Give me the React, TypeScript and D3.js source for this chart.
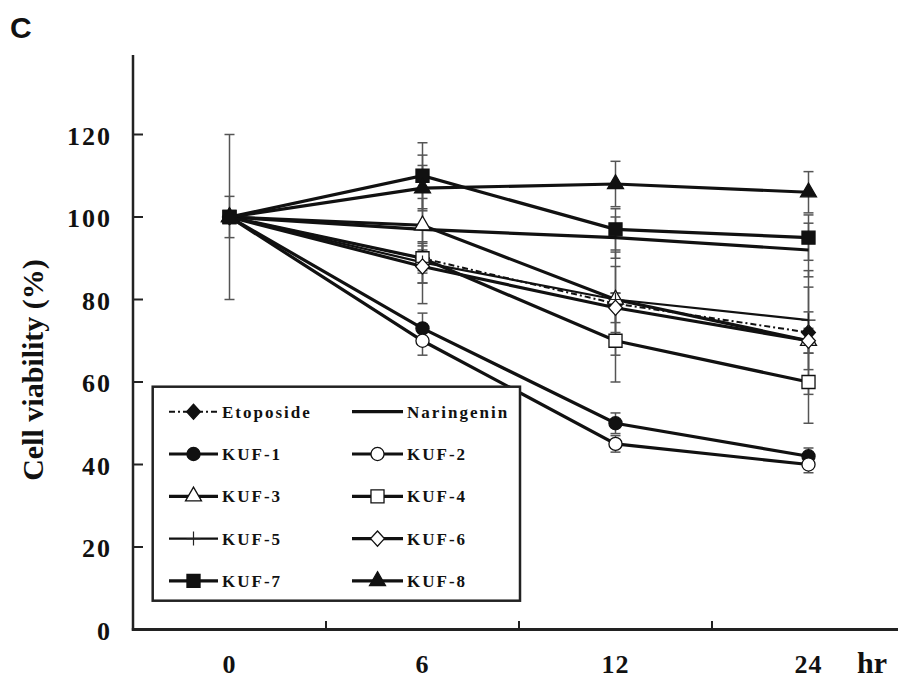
import React from 'react';
import * as d3 from 'd3';

// hours after treatment (categorical axis)
const times = ['0', '6', '12', '24'];
const yTicks = [0, 20, 40, 60, 80, 100, 120];

const seriesNames = ['Etoposide', 'Naringenin', 'KUF-1', 'KUF-2', 'KUF-3', 'KUF-4', 'KUF-5', 'KUF-6', 'KUF-7', 'KUF-8'];

// mean cell viability (%) at 0, 6, 12, 24 hr
const etoposide = [100, 90, 79, 72];
const naringenin = [100, 97, 95, 92];
const kuf1 = [100, 73, 50, 42];
const kuf2 = [100, 70, 45, 40];
const kuf3 = [100, 98, 80, 70];
const kuf4 = [100, 90, 70, 60];
const kuf5 = [100, 89, 80, 75];
const kuf6 = [100, 88, 78, 70];
const kuf7 = [100, 110, 97, 95];
const kuf8 = [100, 107, 108, 106];

// error (±) at each time
const etoposideErr = [20, 3, 12.5, 5];
const naringeninErr = [5, 18, 5, 6.5];
const kuf1Err = [0, 3.7, 2.5, 2];
const kuf2Err = [0, 3.5, 2, 2];
const kuf3Err = [0, 6.5, 1.5, 13];
const kuf4Err = [0, 3.6, 10, 10];
const kuf5Err = [0, 5, 8, 12];
const kuf6Err = [0, 4, 3.6, 3];
const kuf7Err = [0, 8, 5, 5.5];
const kuf8Err = [0, 5.5, 5.5, 5];

const values = [etoposide, naringenin, kuf1, kuf2, kuf3, kuf4, kuf5, kuf6, kuf7, kuf8];
const errors = [etoposideErr, naringeninErr, kuf1Err, kuf2Err, kuf3Err, kuf4Err, kuf5Err, kuf6Err, kuf7Err, kuf8Err];

// marker kind per series
const markers = ['diamondFill', 'none', 'circleFill', 'circleOpen', 'triangleOpen', 'squareOpen', 'plus', 'diamondOpen', 'squareFill', 'triangleFill'];

const SERIF = '"Liberation Serif", "Times New Roman", serif';

const diamondType = {
  draw(ctx, size) {
    const r = Math.sqrt(size) / 2;
    ctx.moveTo(0, -r * 1.1);
    ctx.lineTo(r, 0);
    ctx.lineTo(0, r * 1.1);
    ctx.lineTo(-r, 0);
    ctx.closePath();
  },
};

function Marker({ kind, x, y }) {
  if (kind === 'none') return null;
  if (kind === 'plus') {
    return (
      <path d={`M${x},${y - 7}V${y + 7}M${x - 7},${y}H${x + 7}`} stroke="#222" strokeWidth={1.2} />
    );
  }
  let type = d3.symbolCircle;
  let size = 135;
  if (kind.startsWith('square')) { type = d3.symbolSquare; size = 170; }
  if (kind.startsWith('triangle')) { type = d3.symbolTriangle; size = 110; }
  if (kind.startsWith('diamond')) { type = diamondType; size = 190; }
  const filled = kind.endsWith('Fill');
  const d = d3.symbol().type(type).size(size)();
  return (
    <path
      d={d}
      transform={`translate(${x},${y})`}
      fill={filled ? '#111' : '#fff'}
      stroke="#111"
      strokeWidth={1.3}
    />
  );
}

export default function App() {
  const width = 898;
  const height = 680;

  const x = d3.scaleBand().domain(times).range([133, 905]);
  const y = d3.scaleLinear().domain([0, 120]).range([629.5, 134.5]);
  const cx = (t) => x(t) + x.bandwidth() / 2;

  const line = d3.line()
    .x((d, i) => cx(times[i]))
    .y((d) => y(d));

  const lineStyle = (name) => {
    if (name === 'Etoposide') return { strokeWidth: 2, strokeDasharray: '6,3,2,3' };
    if (name === 'KUF-5') return { strokeWidth: 2.2 };
    return { strokeWidth: 3.2 };
  };

  // legend layout
  const legX = 152.7;
  const legY = 386.7;
  const legW = 367.3;
  const legH = 214;
  const rowY = (r) => 411.7 + r * 42.3;
  const colLine = [[169, 218], [352, 403]];

  return (
    <svg width={width} height={height} style={{ position: 'fixed', left: 0, top: 0, background: '#fff' }}>
      <rect width={width} height={height} fill="#fff" />

      <text x={10} y={38} fontFamily='"Liberation Sans", Arial, sans-serif' fontWeight="bold" fontSize={30} fill="#111">C</text>

      {/* error bars */}
      <g stroke="#555" strokeWidth={1.5}>
        {values.map((vals, s) => vals.map((v, i) => {
          const e = errors[s][i];
          if (!e) return null;
          const px = cx(times[i]);
          const y1 = y(v + e);
          const y2 = y(v - e);
          return (
            <g key={`${s}-${i}`}>
              <line x1={px} x2={px} y1={y1} y2={y2} />
              <line x1={px - 5} x2={px + 5} y1={y1} y2={y1} />
              <line x1={px - 5} x2={px + 5} y1={y2} y2={y2} />
            </g>
          );
        }))}
      </g>

      {/* lines */}
      {values.map((vals, s) => (
        <path key={seriesNames[s]} d={line(vals)} fill="none" stroke="#111" {...lineStyle(seriesNames[s])} />
      ))}

      {/* markers */}
      {values.map((vals, s) => vals.map((v, i) => (
        <Marker key={`${s}-${i}`} kind={markers[s]} x={cx(times[i])} y={y(v)} />
      )))}

      {/* axes */}
      <line x1={133} x2={133} y1={55} y2={630.5} stroke="#222" strokeWidth={2.5} />
      <line x1={131.8} x2={width} y1={629.5} y2={629.5} stroke="#222" strokeWidth={3} />
      {yTicks.filter((t) => t > 0).map((t) => (
        <line key={t} x1={133} x2={143} y1={y(t)} y2={y(t)} stroke="#222" strokeWidth={2} />
      ))}
      {times.slice(1).map((t) => (
        <line key={t} x1={x(t)} x2={x(t)} y1={629.5} y2={621} stroke="#222" strokeWidth={2} />
      ))}

      <g fontFamily={SERIF} fontWeight="bold" fontSize={26} fill="#111">
        {yTicks.map((t) => (
          <text key={t} x={112} y={y(t) + 10} textAnchor="end" letterSpacing={2}>{t}</text>
        ))}
        {times.map((t) => (
          <text key={t} x={cx(t)} y={673} textAnchor="middle" letterSpacing={1}>{t}</text>
        ))}
        <text x={857} y={673} fontSize={30}>hr</text>
        <text transform="translate(43,370) rotate(-90)" textAnchor="middle" fontSize={30}>Cell viability (%)</text>
      </g>

      {/* legend */}
      <rect x={legX} y={legY} width={legW} height={legH} fill="#fff" stroke="#222" strokeWidth={2.5} />
      {seriesNames.map((name, s) => {
        const col = s % 2;
        const row = Math.floor(s / 2);
        const [lx1, lx2] = colLine[col];
        const ry = rowY(row);
        return (
          <g key={name}>
            <line x1={lx1} x2={lx2} y1={ry} y2={ry} stroke="#111" {...lineStyle(name)} />
            <Marker kind={markers[s]} x={(lx1 + lx2) / 2} y={ry} />
            <text
              x={lx2 + 4}
              y={ry + 6}
              fontFamily={SERIF}
              fontWeight="bold"
              fontSize={17}
              letterSpacing={2}
              fill="#111"
            >
              {name}
            </text>
          </g>
        );
      })}
    </svg>
  );
}
